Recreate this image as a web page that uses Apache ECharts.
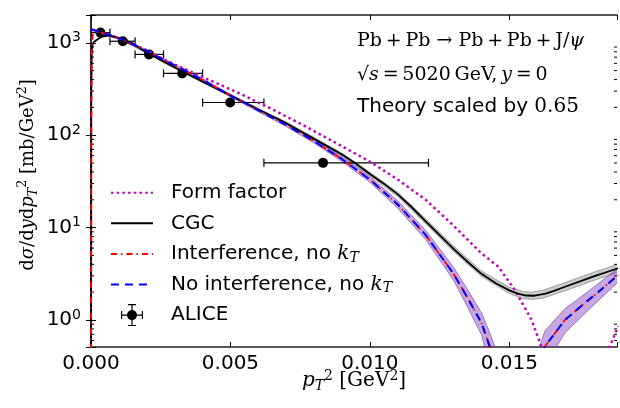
<!DOCTYPE html>
<html>
<head>
<meta charset="utf-8">
<script src="https://cdn.jsdelivr.net/npm/echarts@6/dist/echarts.min.js"></script>
<style>
html, body { margin: 0; padding: 0; background: #fff; }
#chart { width: 620px; height: 408px; }
</style>
</head>
<body>
<div id="chart"></div>
<script>
// Form factor (magenta dotted)
var ffX = [0, 0.001, 0.002, 0.00264, 0.004, 0.00532, 0.0065, 0.0077, 0.009, 0.01008, 0.011, 0.012, 0.013, 0.014, 0.0146, 0.0152, 0.0158, 0.01615, 0.0166, 0.0174, 0.0181, 0.0186, 0.0189];
var ffY = [1400, 1122, 832, 652, 427, 284, 191, 124, 75.9, 50.1, 33.1, 20.0, 10.5, 5.25, 3.78, 2.11, 1.00, 0.513, 0.158, 0.01, 0.158, 0.513, 0.851];

// CGC (black) + grey band
var cgcX = [0, 0.00001, 0.00002, 0.00003, 0.00006, 0.0001, 0.00024, 0.0004, 0.0006, 0.0008, 0.001, 0.0015, 0.002, 0.003, 0.004, 0.005, 0.006, 0.007, 0.008, 0.009, 0.0095, 0.010, 0.0105, 0.011, 0.0115, 0.012, 0.0125, 0.013, 0.0135, 0.014, 0.0145, 0.015, 0.0153, 0.0156, 0.0159, 0.0163, 0.0166, 0.017, 0.018, 0.0189];
var cgcY = [0.01, 200, 600, 850, 960, 1020, 1090, 1170, 1200, 1170, 1125, 985, 783, 540, 380, 269, 190, 135, 91.2, 61.7, 49.0, 38.0, 29.9, 22.9, 16.6, 11.7, 8.30, 5.89, 4.27, 3.16, 2.51, 2.09, 1.93, 1.84, 1.83, 1.93, 2.07, 2.29, 2.95, 3.63];
var cgcBandX = [0.001, 0.002, 0.003, 0.004, 0.005, 0.006, 0.007, 0.008, 0.009, 0.010, 0.011, 0.012, 0.013, 0.014, 0.015, 0.0155, 0.0158, 0.0162, 0.017, 0.018, 0.0189];
var cgcHi = [1146, 798, 551, 389, 276, 195, 139, 94.4, 64.0, 39.8, 24.2, 12.5, 6.31, 3.39, 2.26, 2.04, 2.00, 2.10, 2.54, 3.27, 4.03];
var cgcLo = [1104, 769, 528, 372, 262, 185, 131, 88.1, 59.4, 36.3, 21.7, 11.0, 5.50, 2.95, 1.93, 1.70, 1.67, 1.72, 2.07, 2.66, 3.27];

// No interference, no kT (blue dashed)
var noIntX = [0, 0.0005, 0.001, 0.0015, 0.002, 0.003, 0.004, 0.005, 0.006, 0.007, 0.008, 0.009, 0.010, 0.011, 0.012, 0.013, 0.0135, 0.014, 0.0143, 0.0148, 0.0153, 0.0158, 0.01627, 0.01699, 0.0177, 0.0183, 0.0189];
var noIntY = [1400, 1260, 1122, 966, 813, 569, 398, 269, 186, 129, 86.1, 55.0, 33.1, 17.8, 8.32, 3.16, 1.74, 0.933, 0.513, 0.158, 0.01, 0.158, 0.513, 1.00, 1.52, 2.14, 3.07];

// Interference, no kT (red dash-dot)
var intX = [0, 0.000008, 0.000015, 0.000025, 0.00004, 0.00007, 0.00012, 0.0002, 0.0005, 0.001, 0.0015, 0.002, 0.003, 0.004, 0.005, 0.006, 0.007, 0.008, 0.009, 0.010, 0.011, 0.012, 0.013, 0.0135, 0.014, 0.0143, 0.0148, 0.0153, 0.0158, 0.01627, 0.01699, 0.0177, 0.0183, 0.0189];
var intY = [0.01, 50, 300, 700, 1050, 1250, 1330, 1340, 1260, 1122, 966, 813, 569, 398, 269, 186, 129, 86.1, 55.0, 33.1, 17.8, 8.32, 3.16, 1.74, 0.933, 0.513, 0.158, 0.01, 0.158, 0.513, 1.00, 1.52, 2.14, 3.07];

// purple band (no kT curves)
var kBandX = [0, 0.001, 0.002, 0.003, 0.004, 0.005, 0.006, 0.007, 0.008, 0.009, 0.010, 0.011, 0.012, 0.013, 0.0135, 0.014, 0.0143, 0.0148, 0.0153, 0.0158, 0.01627, 0.01699, 0.0177, 0.0183, 0.0189];
var kHi = [1432, 1148, 832, 583, 409, 277, 193, 134, 90.2, 58.2, 35.5, 19.5, 9.33, 3.72, 2.14, 1.20, 0.724, 0.282, 0.0316, 0.282, 0.759, 1.32, 1.91, 2.63, 3.63];
var kLo = [1368, 1096, 794, 555, 387, 261, 180, 124, 82.2, 51.9, 30.9, 16.2, 7.41, 2.69, 1.38, 0.692, 0.316, 0.063, 0.00316, 0.063, 0.316, 0.724, 1.17, 1.74, 2.57];

// ALICE
var aliceX = [0.00034, 0.00114, 0.00208, 0.00327, 0.00499, 0.00832];
var aliceY = [1290, 1040, 749, 467, 226, 50.2];
var aliceXlo = [0, 0.00068, 0.00158, 0.0026, 0.0040, 0.0062];
var aliceXhi = [0.00068, 0.00158, 0.0026, 0.0040, 0.0062, 0.0121];

var minorTicks = [0.6, 0.7, 0.8, 0.9, 2, 3, 4, 5, 6, 7, 8, 9, 20, 30, 40, 50, 60, 70, 80, 90, 200, 300, 400, 500, 600, 700, 800, 900];

function pairs(xs, ys) {
    return xs.map(function (x, i) { return [x, ys[i]]; });
}

//带状误差区域
function band(name, xs, lo, hi, fill, edge) {
    return {
        name: name,
        type: 'custom',
        clip: true,
        silent: true,
        data: [[0.01, 10]],
        renderItem: function (params, api) {
            var top = xs.map(function (x, i) { return api.coord([x, hi[i]]); });
            var bot = xs.map(function (x, i) { return api.coord([x, lo[i]]); }).reverse();
            return {
                type: 'group',
                children: [
                    { type: 'polygon', shape: { points: top.concat(bot) }, style: { fill: fill } },
                    { type: 'polyline', shape: { points: top }, style: { stroke: edge, lineWidth: 1, fill: null } },
                    { type: 'polyline', shape: { points: bot }, style: { stroke: edge, lineWidth: 1, fill: null } }
                ]
            };
        }
    };
}

var aliceIcon = 'path://M-5,0 A5,5 0 1,1 5,0 A5,5 0 1,1 -5,0 Z ' +
    'M-11,-0.6 L11,-0.6 L11,0.6 L-11,0.6 Z M-0.6,-11 L0.6,-11 L0.6,11 L-0.6,11 Z ' +
    'M-11,-4 L-9.8,-4 L-9.8,4 L-11,4 Z M9.8,-4 L11,-4 L11,4 L9.8,4 Z ' +
    'M-4,-11 L4,-11 L4,-9.8 L-4,-9.8 Z M-4,9.8 L4,9.8 L4,11 L-4,11 Z';

var serif = 'DejaVu Serif';
var sans = 'DejaVu Sans';
function mathRich(size) {
    return {
        i: { fontFamily: serif, fontStyle: 'italic', fontSize: size, lineHeight: 24, color: '#000' },
        sub: { fontFamily: serif, fontStyle: 'italic', fontSize: size * 0.7, lineHeight: 13, verticalAlign: 'bottom', color: '#000' },
        sup: { fontFamily: serif, fontSize: size * 0.7, lineHeight: 13, verticalAlign: 'top', color: '#000' },
        n: { fontFamily: serif, fontSize: size, lineHeight: 24, color: '#000' }
    };
}

var spine = { show: true, lineStyle: { color: '#222', width: 1.5 } };
var tick = { show: true, inside: true, length: 5, lineStyle: { color: '#000', width: 1 } };
var hideMarker = { opacity: 0 };

var myChart = echarts.init(document.getElementById('chart'));
var option = {
    animation: false,
    grid: { left: 91, right: 1, top: 15, bottom: 61 },
    xAxis: [{
        type: 'value', min: 0, max: 0.01886, interval: 0.005,
        axisLine: spine, axisTick: tick, splitLine: { show: false },
        axisLabel: {
            margin: 7, fontFamily: sans, fontSize: 20, color: '#000',
            formatter: function (v) {
                var k = v / 0.005;
                return Math.abs(k - Math.round(k)) > 1e-6 ? '' : v.toFixed(3);
            }
        },
        name: '{i|p}{sub|T}{sup|2} [GeV{sup|2}]',
        nameLocation: 'middle', nameGap: 22, nameMoveOverlap: false,
        nameTextStyle: { fontFamily: serif, fontSize: 20, color: '#000', lineHeight: 24, rich: mathRich(20) }
    }, {
        type: 'value', min: 0, max: 0.01886, interval: 0.005, position: 'top',
        axisLine: spine, axisTick: tick, axisLabel: { show: false }, splitLine: { show: false }
    }],
    yAxis: [{
        type: 'log', logBase: 10, min: 0.51, max: 2000,
        axisLine: spine, axisTick: tick, splitLine: { show: false },
        axisLabel: {
            margin: 10, color: '#000',
            formatter: function (v) {
                var e = Math.log10(v);
                if (Math.abs(e - Math.round(e)) > 1e-6) return '';
                return '{b|10}{s|' + Math.round(e) + '}';
            },
            rich: {
                b: { fontFamily: sans, fontSize: 20, lineHeight: 24, color: '#000' },
                s: { fontFamily: sans, fontSize: 14, lineHeight: 17, verticalAlign: 'top', color: '#000' }
            }
        },
        name: 'd{i|σ}/d{i|y}d{i|p}{sub|T}{sup|2} [mb/GeV{sup|2}]',
        nameLocation: 'middle', nameGap: 51, nameMoveOverlap: false,
        nameTextStyle: { fontFamily: serif, fontSize: 18, color: '#000', lineHeight: 24, padding: [0, 0, 0, 12], rich: mathRich(18) }
    }, {
        type: 'log', logBase: 10, min: 0.51, max: 2000, position: 'right',
        axisLine: spine, axisTick: tick, axisLabel: { show: false }, splitLine: { show: false }
    }],
    legend: {
        orient: 'vertical', left: 110, top: 181.7, padding: 0,
        itemWidth: 42, itemHeight: 22, itemGap: 8.6,
        selectedMode: false,
        data: [
            { name: 'Form factor', itemStyle: hideMarker },
            { name: 'CGC', itemStyle: hideMarker },
            { name: 'Interference, no k_T', itemStyle: hideMarker },
            { name: 'No interference, no k_T', itemStyle: hideMarker },
            { name: 'ALICE', icon: aliceIcon }
        ],
        formatter: function (n) { return n.replace('k_T', '{i|k}{sub|T}'); },
        textStyle: {
            fontFamily: sans, fontSize: 20, color: '#000', lineHeight: 22, padding: [0, 0, 0, 13],
            rich: {
                i: { fontFamily: serif, fontStyle: 'italic', fontSize: 20, lineHeight: 22, color: '#000' },
                sub: { fontFamily: serif, fontStyle: 'italic', fontSize: 14, lineHeight: 12, verticalAlign: 'bottom', color: '#000' }
            }
        }
    },
    graphic: [
        { type: 'text', x: 357, y: 41.5, style: { text: 'Pb\u2009+\u2009Pb → Pb\u2009+\u2009Pb\u2009+\u2009J/{i|ψ}', fontFamily: serif, fontSize: 19, fill: '#000', verticalAlign: 'middle', rich: mathRich(19) } },
        { type: 'text', x: 357, y: 75.5, style: { text: '√{i|s}\u2009=\u20095020\u2009GeV,\u2009{i|y}\u2009=\u20090', fontFamily: serif, fontSize: 19, fill: '#000', verticalAlign: 'middle', rich: mathRich(19) } },
        { type: 'text', x: 357, y: 107, style: { text: 'Theory scaled by {n|0.65}', fontFamily: sans, fontSize: 20, fill: '#000', verticalAlign: 'middle', rich: mathRich(20) } }
    ],
    series: [
        band('cgcBand', cgcBandX, cgcLo, cgcHi, 'rgba(0,0,0,0.2)', 'rgba(0,0,0,0.3)'),
        band('kBand', kBandX, kLo, kHi, 'rgba(120,50,180,0.42)', 'rgba(110,40,170,0.55)'),
        {
            name: 'Form factor', type: 'line', symbol: 'none', data: pairs(ffX, ffY),
            lineStyle: { color: '#bf00bf', width: 2.5, type: [2.5, 3.2] }, itemStyle: { color: '#bf00bf' }
        },
        {
            name: 'CGC', type: 'line', symbol: 'none', data: pairs(cgcX, cgcY),
            lineStyle: { color: '#000', width: 1.8 }, itemStyle: { color: '#000' }
        },
        {
            name: 'Interference, no k_T', type: 'line', symbol: 'none', data: pairs(intX, intY),
            lineStyle: { color: '#ff0000', width: 1.8, type: [6, 4, 1.5, 4] }, itemStyle: { color: '#ff0000' }
        },
        {
            name: 'No interference, no k_T', type: 'line', symbol: 'none', data: pairs(noIntX, noIntY),
            lineStyle: { color: '#0000ff', width: 2, type: [8, 6] }, itemStyle: { color: '#0000ff' }
        },
        {
            name: 'ALICE', type: 'custom', clip: true, itemStyle: { color: '#000' },
            data: aliceX.map(function (x, i) { return [x, aliceY[i], aliceXlo[i], aliceXhi[i]]; }),
            encode: { x: 0, y: 1 },
            renderItem: function (params, api) {
                var c = api.coord([api.value(0), api.value(1)]);
                var l = api.coord([api.value(2), api.value(1)]);
                var r = api.coord([api.value(3), api.value(1)]);
                return {
                    type: 'group',
                    children: [
                        { type: 'line', shape: { x1: l[0], y1: c[1], x2: r[0], y2: c[1] }, style: { stroke: '#000', lineWidth: 1.2 } },
                        { type: 'line', shape: { x1: l[0], y1: c[1] - 4, x2: l[0], y2: c[1] + 4 }, style: { stroke: '#000', lineWidth: 1.2 } },
                        { type: 'line', shape: { x1: r[0], y1: c[1] - 4, x2: r[0], y2: c[1] + 4 }, style: { stroke: '#000', lineWidth: 1.2 } },
                        { type: 'circle', shape: { cx: c[0], cy: c[1], r: 5 }, style: { fill: '#000' } }
                    ]
                };
            }
        },
        {
            name: 'minorTicks', type: 'custom', silent: true,
            data: minorTicks.map(function (v) { return [0, v]; }),
            encode: { x: 0, y: 1 },
            renderItem: function (params, api) {
                var p = api.coord([0, api.value(1)]);
                var cs = params.coordSys;
                return {
                    type: 'group',
                    children: [
                        { type: 'line', shape: { x1: cs.x, y1: p[1], x2: cs.x + 3, y2: p[1] }, style: { stroke: '#000', lineWidth: 1 } },
                        { type: 'line', shape: { x1: cs.x + cs.width - 3, y1: p[1], x2: cs.x + cs.width, y2: p[1] }, style: { stroke: '#000', lineWidth: 1 } }
                    ]
                };
            }
        }
    ]
};
option && myChart.setOption(option);
</script>
</body>
</html>
